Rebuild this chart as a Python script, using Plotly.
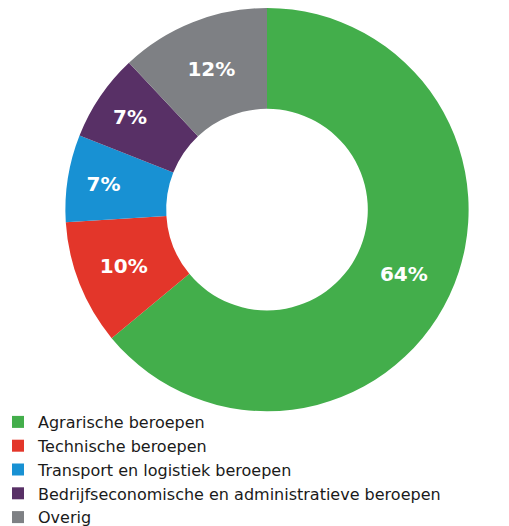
import plotly.graph_objects as go

categories = [
    "Agrarische beroepen",
    "Technische beroepen",
    "Transport en logistiek beroepen",
    "Bedrijfseconomische en administratieve beroepen",
    "Overig",
]
values = [64, 10, 7, 7, 12]
colors = ["#43AE4B", "#E3362A", "#1891D3", "#583066", "#7E8084"]

W, H = 509, 526
# page body has an 8px margin; figure coordinates are offset by (8, 8) on screen
fig = go.Figure(
    go.Pie(
        labels=categories,
        values=values,
        hole=0.5,
        sort=False,
        direction="clockwise",
        rotation=0,
        marker=dict(colors=colors, line=dict(width=0)),
        textinfo="percent",
        texttemplate="%{percent:.0%}",
        textposition="inside",
        insidetextorientation="horizontal",
        textfont=dict(family="DejaVu Sans", size=20, color="white", weight="bold"),
        domain=dict(x=[57 / W, 461 / W], y=[1 - 404 / H, 1]),
        hoverinfo="label+percent",
    )
)
fig.update_layout(
    width=W,
    height=H,
    margin=dict(l=0, r=0, t=0, b=0),
    paper_bgcolor="white",
    plot_bgcolor="white",
    showlegend=True,
    legend=dict(
        x=0,
        xanchor="left",
        y=1 - 398 / H,
        yanchor="top",
        indentation=-10,
        font=dict(family="DejaVu Sans", size=16, color="#1a1a1a"),
        bgcolor="rgba(0,0,0,0)",
        traceorder="normal",
        itemclick=False,
    ),
)
fig.write_html("out.html")
